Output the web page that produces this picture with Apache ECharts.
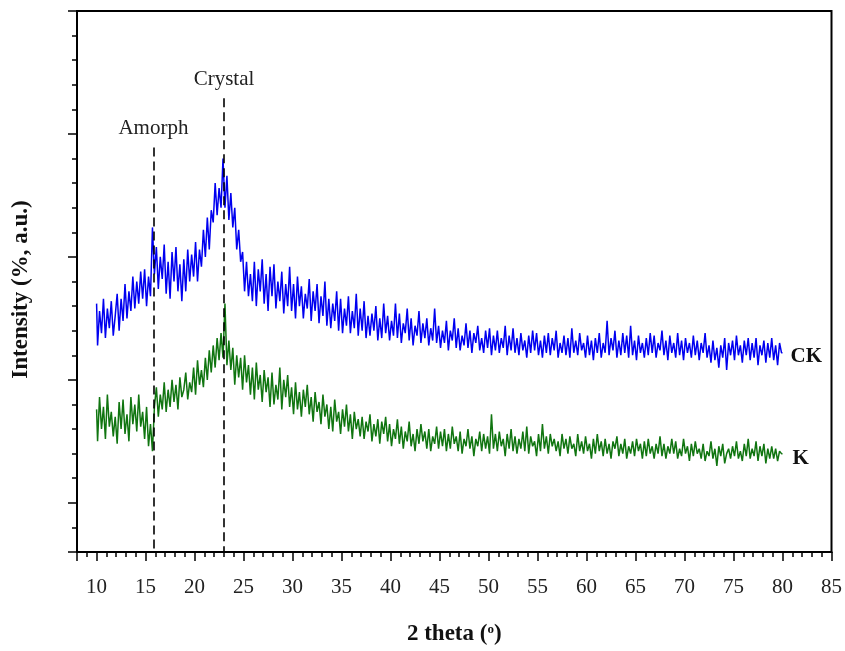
<!DOCTYPE html>
<html>
<head>
<meta charset="utf-8">
<script src="https://cdn.jsdelivr.net/npm/echarts@6/dist/echarts.min.js"></script>
<style>
html,body{margin:0;padding:0;background:#fff;}
#chart{width:845px;height:651px;}
</style>
</head>
<body>
<div id="chart"></div>
<script>
// 2-theta sampling of both patterns (deg)
const thetaStart = 10;
const thetaStep = 0.2;

// CK pattern (intensity, a.u.), one value every 0.2 deg from 10 to 80
const ckIntensity = [
  10.1, 8.4, 9.8, 8.9, 10.3,   8.7, 9.9, 9.1, 10.2, 8.8,    9.6, 10.5, 9.0, 10.3, 9.4,
  10.9, 9.5, 10.6, 9.8, 11.2,  9.9, 11.0, 10.1, 11.4, 10.3, 11.5, 10.0, 11.2, 10.4, 13.2,
  11.3, 12.4, 10.7, 12.0, 11.1, 12.5, 10.5, 11.8, 10.3, 12.2, 11.0, 12.4, 10.6, 11.7, 10.2,
  11.9, 10.6, 12.3, 11.0, 12.1, 11.2, 12.6, 11.0, 12.3, 11.6, 13.1, 12.0, 13.6, 12.3, 13.9,
  13.4, 15.0, 13.7, 14.8, 14.0, 16.0, 14.0, 15.3, 13.5, 14.6, 13.2, 14.0, 12.3, 13.1, 11.8,
  12.2, 10.6, 11.8, 10.4, 11.3, 10.2, 11.8, 10.0, 11.5, 10.6, 11.9, 10.1, 11.3, 9.8, 11.6,
  10.4, 11.7, 9.9, 11.0, 10.2,  11.4, 9.7, 10.9, 10.0, 11.6,  9.8, 10.9, 9.5, 11.2, 10.0,
  10.8, 9.5, 10.5, 9.9, 11.1,   9.4, 10.6, 9.8, 10.9, 9.3,    10.4, 9.6, 11.0, 9.2, 10.3,
  9.1, 10.1, 9.4, 10.6, 9.0,    10.3, 8.9, 9.9, 9.2, 10.4,    8.9, 9.8, 9.1, 10.5, 8.8,
  9.9, 9.0, 10.2, 8.7, 9.6,     8.8, 9.7, 9.0, 10.0, 8.6,     9.5, 8.7, 10.1, 8.9, 9.6,
  8.6, 9.4, 8.8, 10.1, 8.7,     9.7, 8.5, 9.3, 8.9, 9.9,      8.6, 9.5, 8.4, 9.2, 8.8,
  9.8, 8.5, 9.3, 8.7, 9.5,      8.4, 9.1, 8.6, 9.9, 8.5,      9.2, 8.3, 9.0, 8.5, 9.4,
  8.2, 9.0, 8.6, 9.5, 8.3,      9.1, 8.2, 8.8, 8.4, 9.3,      8.3, 9.0, 8.1, 8.9, 8.5,
  9.2, 8.2, 8.7, 8.1, 9.0,      8.3, 9.1, 8.0, 8.8, 8.2,      9.0, 8.1, 8.7, 8.3, 9.2,
  8.0, 8.8, 8.2, 9.1, 8.1,      8.7, 8.0, 8.9, 8.2, 8.6,      7.9, 8.8, 8.1, 9.0, 8.2,
  8.9, 8.0, 8.6, 7.9, 8.8,      8.1, 8.9, 8.0, 8.7, 8.2,      9.0, 7.9, 8.5, 8.1, 8.8,
  8.0, 8.7, 7.9, 9.1, 8.1,      8.6, 8.0, 8.9, 8.2, 8.5,      7.9, 8.8, 8.0, 8.6, 7.8,
  8.7, 8.1, 8.9, 7.9, 8.5,      8.1, 9.4, 8.0, 8.7, 8.2,      9.0, 7.9, 8.6, 8.0, 8.9,
  8.1, 8.8, 7.9, 9.2, 8.0,      8.6, 7.8, 8.8, 8.1, 8.5,      7.9, 8.7, 8.0, 8.9, 8.1,
  8.8, 7.9, 8.5, 8.2, 9.0,      8.0, 8.6, 7.8, 8.8, 8.1,      8.5, 7.9, 8.9, 8.0, 8.6,
  7.8, 8.7, 8.1, 8.5, 7.9,      8.8, 8.0, 8.6, 7.8, 8.5,      8.1, 8.9, 7.9, 8.4, 7.7,
  8.6, 7.8, 8.3, 7.5, 8.4,      7.9, 8.7, 7.4, 8.5, 8.0,      8.6, 7.8, 8.8, 8.0, 8.4,
  7.7, 8.6, 8.0, 8.7, 7.8,      8.5, 7.9, 8.7, 7.6, 8.4,      8.0, 8.6, 7.7, 8.5, 7.9,
  8.7, 7.8, 8.4, 7.6, 8.5,
  8.1
];

// K pattern (intensity, a.u.), one value every 0.2 deg from 10 to 80
const kIntensity = [
  5.8, 4.5, 6.3, 5.0, 5.9,   4.6, 6.4, 5.1, 5.7, 4.7,   5.5, 4.4, 6.1, 5.0, 6.2,
  4.8, 5.6, 4.5, 6.3, 5.2,   6.0, 4.9, 6.4, 5.1, 5.7,   4.6, 5.9, 4.3, 5.2, 4.1,
  5.9, 6.7, 5.5, 6.4, 5.8,   6.9, 5.7, 6.6, 5.9, 7.0,   6.1, 6.8, 5.8, 7.1, 6.3,
  6.6, 7.3, 6.2, 6.9, 6.5,   7.5, 6.4, 7.8, 6.8, 7.4,   6.7, 7.9, 7.0, 8.2, 7.3,
  8.4, 7.5, 8.7, 7.8, 8.9,   7.9, 10.1, 7.6, 8.6, 7.4,  8.3, 6.8, 8.0, 7.1, 7.9,
  6.6, 8.0, 6.9, 7.6, 6.4,   7.5, 6.2, 7.7, 6.6, 7.2,   6.1, 7.4, 6.5, 7.1, 5.9,
  7.3, 6.0, 6.8, 6.2, 7.5,   5.8, 7.0, 6.3, 7.2, 5.9,   6.7, 5.6, 6.9, 5.8, 6.5,
  5.5, 6.6, 5.9, 6.8, 5.6,   6.3, 5.3, 6.5, 5.7, 6.1,   5.2, 6.4, 5.5, 6.0, 5.0,
  5.9, 4.9, 6.2, 5.3, 5.7,   4.8, 5.8, 5.1, 6.0, 4.9,   5.6, 4.6, 5.7, 5.0, 5.4,
  4.7, 5.5, 4.6, 5.3, 4.9,   5.6, 4.5, 5.2, 4.7, 5.4,   4.4, 5.3, 4.8, 5.5, 4.5,
  5.2, 4.3, 5.0, 4.6, 5.4,   4.4, 5.1, 4.2, 4.9, 4.5,   5.3, 4.3, 4.8, 4.1, 5.0,
  4.4, 5.2, 4.5, 4.9, 4.2,   5.0, 4.1, 4.7, 4.4, 5.1,   4.2, 4.9, 4.3, 5.0, 4.1,
  4.8, 4.2, 5.1, 4.4, 4.7,   4.1, 4.9, 4.0, 4.6, 4.3,   5.0, 4.2, 4.7, 3.9, 4.6,
  4.3, 4.9, 4.1, 4.8, 4.2,   4.7, 4.0, 5.6, 4.2, 4.8,   4.1, 4.9, 4.3, 4.6, 3.9,
  4.8, 4.2, 5.0, 4.1, 4.7,   4.0, 4.6, 4.2, 4.9, 4.1,   5.1, 4.0, 4.7, 4.3, 4.5,
  3.9, 4.8, 4.1, 5.2, 4.2,   4.7, 4.0, 4.8, 4.3, 4.6,   4.1, 4.5, 3.9, 4.8, 4.2,
  4.6, 4.0, 4.7, 4.2, 4.4,   3.9, 4.8, 4.1, 4.5, 4.0,   4.7, 4.1, 4.4, 3.8, 4.6,
  4.0, 4.8, 4.1, 4.5, 3.9,   4.6, 4.0, 4.4, 3.8, 4.5,   4.2, 4.7, 3.9, 4.4, 4.0,
  4.6, 3.8, 4.3, 4.0, 4.5,   3.9, 4.6, 4.1, 4.4, 3.8,   4.5, 3.9, 4.6, 4.0, 4.3,
  3.8, 4.4, 4.0, 4.7, 3.9,   4.4, 3.8, 4.3, 4.0, 4.6,   4.0, 4.5, 3.8, 4.2, 3.9,
  4.6, 4.0, 4.3, 3.7, 4.4,   3.9, 4.5, 4.0, 4.2, 3.8,   4.4, 3.7, 4.1, 3.9, 4.5,
  3.8, 4.2, 3.5, 4.3, 3.9,   4.4, 3.6, 4.0, 4.2, 3.8,   4.3, 3.9, 4.5, 3.8, 4.1,
  3.7, 4.4, 3.9, 4.6, 3.8,   4.2, 3.9, 4.5, 3.7, 4.3,   3.9, 4.4, 3.6, 4.2, 3.8,
  4.3, 3.8, 4.2, 3.7, 4.1,
  4.0
];

const seriesNames = ['CK', 'K'];

// reference peak positions (2 theta) and annotation labels
const peakTheta = [15.8, 23.0];
const peakLabels = ['Amorph', 'Crystal'];
const peakLineTop = [16.45, 18.45];

// axis settings
const xMin = 8, xMax = 85, xMajor = 5;
const yMin = 0, yMax = 22, yMajor = 5;

function toPairs(arr) {
  return arr.map((v, i) => [+(thetaStart + i * thetaStep).toFixed(2), v]);
}

const FONT = '"Liberation Serif", "Times New Roman", serif';
const chart = echarts.init(document.getElementById('chart'), null, {renderer: 'canvas'});

const tickStyle = {color: '#000', width: 1.5};

chart.setOption({
  animation: false,
  backgroundColor: '#fff',
  grid: {
    left: 77, right: 11, top: 11, bottom: 97,
    show: true, borderColor: '#000', borderWidth: 2, backgroundColor: 'transparent'
  },
  xAxis: [
    {
      type: 'value', min: xMin, max: xMax, interval: 1, position: 'bottom',
      axisLine: {onZero: false, lineStyle: {color: '#000', width: 2}},
      axisTick: {length: 5, lineStyle: tickStyle},
      axisLabel: {show: false},
      splitLine: {show: false},
      name: '2 theta ({s|o})',
      nameLocation: 'middle', nameGap: 71,
      nameTextStyle: {
        fontFamily: FONT, fontWeight: 'bold', fontSize: 23, color: '#111',
        rich: {s: {fontFamily: FONT, fontSize: 13, fontWeight: 'bold', verticalAlign: 'top', padding: [0, 0, 10, 0], color: '#111'}}
      }
    },
    {
      type: 'value', inverse: true, min: 0, max: xMax - xMin, interval: xMajor, position: 'bottom',
      axisLine: {show: false, onZero: false},
      axisTick: {length: 9, lineStyle: tickStyle},
      axisLabel: {
        margin: 25, fontFamily: FONT, fontSize: 21, color: '#222',
        formatter: v => (v === xMax - xMin ? '' : String(xMax - v))
      },
      splitLine: {show: false}
    }
  ],
  yAxis: [
    {
      type: 'value', min: yMin, max: yMax, interval: 1, position: 'left',
      axisLine: {onZero: false, lineStyle: {color: '#000', width: 2}},
      axisTick: {length: 5, lineStyle: tickStyle},
      axisLabel: {show: false},
      splitLine: {show: false},
      name: 'Intensity (%, a.u.)',
      nameLocation: 'middle', nameGap: 44,
      nameTextStyle: {fontFamily: FONT, fontWeight: 'bold', fontSize: 23, color: '#111', padding: [0, 16, 0, 0]}
    },
    {
      type: 'value', inverse: true, min: yMin, max: yMax, interval: yMajor, position: 'left',
      axisLine: {show: false, onZero: false},
      axisTick: {length: 9, lineStyle: tickStyle},
      axisLabel: {show: false},
      splitLine: {show: false}
    }
  ],
  series: [
    {
      name: seriesNames[0], type: 'line', xAxisIndex: 0, yAxisIndex: 0,
      data: toPairs(ckIntensity), showSymbol: false, symbol: 'none', step: 'middle',
      lineStyle: {color: '#0000f0', width: 1.5}, itemStyle: {color: '#0000f0'},
      endLabel: {show: true, formatter: '{a}', fontFamily: FONT, fontWeight: 'bold', fontSize: 21, color: '#111', distance: 8, offset: [0, 4]},
      markLine: {
        silent: true, symbol: ['none', 'none'],
        lineStyle: {color: '#000', width: 1.6, type: [9, 5]},
        label: {show: true, position: 'start', formatter: '{b}', fontFamily: FONT, fontSize: 21, color: '#222', distance: 8},
        data: peakTheta.map((t, i) => [
          {name: peakLabels[i], coord: [t, peakLineTop[i]]},
          {coord: [t, yMin]}
        ])
      }
    },
    {
      name: seriesNames[1], type: 'line', xAxisIndex: 0, yAxisIndex: 0,
      data: toPairs(kIntensity), showSymbol: false, symbol: 'none', step: 'middle',
      lineStyle: {color: '#107510', width: 1.5}, itemStyle: {color: '#107510'},
      endLabel: {show: true, formatter: '{a}', fontFamily: FONT, fontWeight: 'bold', fontSize: 21, color: '#111', distance: 10, offset: [0, 5]}
    }
  ]
});
</script>
</body>
</html>
